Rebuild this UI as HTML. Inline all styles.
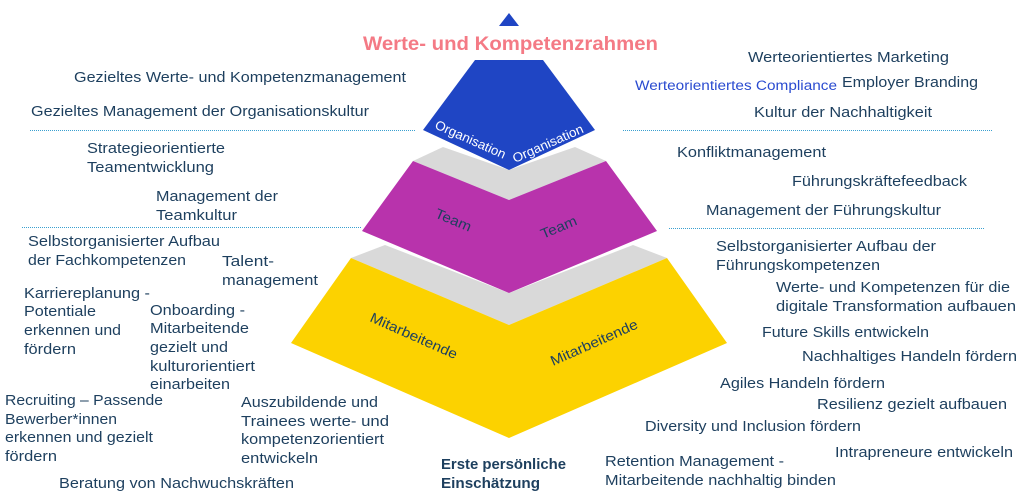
<!DOCTYPE html>
<html><head><meta charset="utf-8"><style>
html,body{margin:0;padding:0;background:#fff;}
svg{display:block;}
text{font-family:"Liberation Sans",sans-serif;font-size:14.5px;fill:#1d3f5e;}
</style></head><body>
<svg width="1022" height="494" viewBox="0 0 1022 494" xmlns="http://www.w3.org/2000/svg">
<polygon points="509,13 519,26 499,26" fill="#1f45c4"/>
<text x="363" y="50" textLength="295" lengthAdjust="spacingAndGlyphs" style="font-size:19px;font-weight:bold;fill:#f47a85">Werte- und Kompetenzrahmen</text>
<!-- gray bands -->
<polygon points="413,161 443,147 509,170 575,147 606,161 509,200" fill="#d9d9d9"/>
<polygon points="351,258 385,245 509,293 633,245 667,258 509,325" fill="#d9d9d9"/>
<!-- layers -->
<polygon points="475,60 543,60 595,130 509,170 423,130" fill="#1f45c4"/>
<polygon points="413,161 509,200 606,161 657,231 509,293 362,231" fill="#b833ac"/>
<polygon points="351,258 509,325 667,258 727,343 509,438 291,343" fill="#fcd200"/>
<!-- layer labels -->
<text transform="translate(434,128) rotate(24)" textLength="76" lengthAdjust="spacingAndGlyphs" style="fill:#fff;font-size:13px">Organisation</text>
<text transform="translate(515,163) rotate(-24)" textLength="76" lengthAdjust="spacingAndGlyphs" style="fill:#fff;font-size:13px">Organisation</text>
<text transform="translate(434,217) rotate(23)" textLength="38" lengthAdjust="spacingAndGlyphs" style="font-size:14px">Team</text>
<text transform="translate(543,239) rotate(-23)" textLength="38" lengthAdjust="spacingAndGlyphs" style="font-size:14px">Team</text>
<text transform="translate(369,321) rotate(24)" textLength="94" lengthAdjust="spacingAndGlyphs" style="font-size:14px">Mitarbeitende</text>
<text transform="translate(553,366) rotate(-24)" textLength="94" lengthAdjust="spacingAndGlyphs" style="font-size:14px">Mitarbeitende</text>
<!-- dotted lines -->
<g stroke="#3aa0d0" stroke-width="1" stroke-dasharray="1 1">
<line x1="30" y1="130.5" x2="415" y2="130.5"/>
<line x1="22" y1="227.5" x2="362" y2="227.5"/>
<line x1="623" y1="130.5" x2="993" y2="130.5"/>
<line x1="669" y1="228.5" x2="985" y2="228.5"/>
</g>
<!-- left texts -->
<text x="74" y="82" textLength="332" lengthAdjust="spacingAndGlyphs">Gezieltes Werte- und Kompetenzmanagement</text>
<text x="31" y="116" textLength="338" lengthAdjust="spacingAndGlyphs">Gezieltes Management der Organisationskultur</text>
<text x="87" y="153" textLength="138" lengthAdjust="spacingAndGlyphs">Strategieorientierte</text>
<text x="87" y="172" textLength="127" lengthAdjust="spacingAndGlyphs">Teamentwicklung</text>
<text x="156" y="201" textLength="122" lengthAdjust="spacingAndGlyphs">Management der</text>
<text x="156" y="220" textLength="81" lengthAdjust="spacingAndGlyphs">Teamkultur</text>
<text x="28" y="246" textLength="192" lengthAdjust="spacingAndGlyphs">Selbstorganisierter Aufbau</text>
<text x="28" y="265" textLength="158" lengthAdjust="spacingAndGlyphs">der Fachkompetenzen</text>
<text x="222" y="266" textLength="52" lengthAdjust="spacingAndGlyphs">Talent-</text>
<text x="222" y="285" textLength="96" lengthAdjust="spacingAndGlyphs">management</text>
<text x="24" y="298" textLength="126" lengthAdjust="spacingAndGlyphs">Karriereplanung -</text>
<text x="24" y="316" textLength="72" lengthAdjust="spacingAndGlyphs">Potentiale</text>
<text x="24" y="335" textLength="97" lengthAdjust="spacingAndGlyphs">erkennen und</text>
<text x="24" y="354" textLength="52" lengthAdjust="spacingAndGlyphs">fördern</text>
<text x="150" y="315" textLength="95" lengthAdjust="spacingAndGlyphs">Onboarding -</text>
<text x="150" y="333" textLength="99" lengthAdjust="spacingAndGlyphs">Mitarbeitende</text>
<text x="150" y="352" textLength="78" lengthAdjust="spacingAndGlyphs">gezielt und</text>
<text x="150" y="371" textLength="105" lengthAdjust="spacingAndGlyphs">kulturorientiert</text>
<text x="150" y="389" textLength="80" lengthAdjust="spacingAndGlyphs">einarbeiten</text>
<text x="5" y="405" textLength="158" lengthAdjust="spacingAndGlyphs">Recruiting – Passende</text>
<text x="5" y="424" textLength="112" lengthAdjust="spacingAndGlyphs">Bewerber*innen</text>
<text x="5" y="442" textLength="148" lengthAdjust="spacingAndGlyphs">erkennen und gezielt</text>
<text x="5" y="461" textLength="52" lengthAdjust="spacingAndGlyphs">fördern</text>
<text x="241" y="407" textLength="137" lengthAdjust="spacingAndGlyphs">Auszubildende und</text>
<text x="241" y="426" textLength="148" lengthAdjust="spacingAndGlyphs">Trainees  werte- und</text>
<text x="241" y="444" textLength="143" lengthAdjust="spacingAndGlyphs">kompetenzorientiert</text>
<text x="241" y="463" textLength="77" lengthAdjust="spacingAndGlyphs">entwickeln</text>
<text x="59" y="488" textLength="235" lengthAdjust="spacingAndGlyphs">Beratung von Nachwuchskräften</text>
<text x="441" y="469" textLength="125" lengthAdjust="spacingAndGlyphs" style="font-weight:bold">Erste persönliche</text>
<text x="441" y="488" textLength="99" lengthAdjust="spacingAndGlyphs" style="font-weight:bold">Einschätzung</text>
<!-- right texts -->
<text x="748" y="62" textLength="201" lengthAdjust="spacingAndGlyphs">Werteorientiertes Marketing</text>
<text x="635" y="90" textLength="202" lengthAdjust="spacingAndGlyphs" style="fill:#2a4bd0;font-size:13.5px">Werteorientiertes Compliance</text>
<text x="842" y="87" textLength="136" lengthAdjust="spacingAndGlyphs">Employer Branding</text>
<text x="754" y="117" textLength="178" lengthAdjust="spacingAndGlyphs">Kultur der Nachhaltigkeit</text>
<text x="677" y="157" textLength="149" lengthAdjust="spacingAndGlyphs">Konfliktmanagement</text>
<text x="792" y="186" textLength="175" lengthAdjust="spacingAndGlyphs">Führungskräftefeedback</text>
<text x="706" y="215" textLength="235" lengthAdjust="spacingAndGlyphs">Management der Führungskultur</text>
<text x="716" y="251" textLength="220" lengthAdjust="spacingAndGlyphs">Selbstorganisierter Aufbau der</text>
<text x="716" y="270" textLength="164" lengthAdjust="spacingAndGlyphs">Führungskompetenzen</text>
<text x="776" y="292" textLength="234" lengthAdjust="spacingAndGlyphs">Werte- und Kompetenzen für die</text>
<text x="776" y="311" textLength="240" lengthAdjust="spacingAndGlyphs">digitale Transformation aufbauen</text>
<text x="762" y="337" textLength="167" lengthAdjust="spacingAndGlyphs">Future Skills entwickeln</text>
<text x="802" y="361" textLength="215" lengthAdjust="spacingAndGlyphs">Nachhaltiges Handeln fördern</text>
<text x="720" y="388" textLength="165" lengthAdjust="spacingAndGlyphs">Agiles Handeln fördern</text>
<text x="817" y="409" textLength="190" lengthAdjust="spacingAndGlyphs">Resilienz  gezielt aufbauen</text>
<text x="645" y="431" textLength="216" lengthAdjust="spacingAndGlyphs">Diversity und Inclusion fördern</text>
<text x="835" y="457" textLength="178" lengthAdjust="spacingAndGlyphs">Intrapreneure entwickeln</text>
<text x="605" y="466" textLength="179" lengthAdjust="spacingAndGlyphs">Retention Management -</text>
<text x="605" y="485" textLength="231" lengthAdjust="spacingAndGlyphs">Mitarbeitende nachhaltig binden</text>
</svg>
</body></html>
